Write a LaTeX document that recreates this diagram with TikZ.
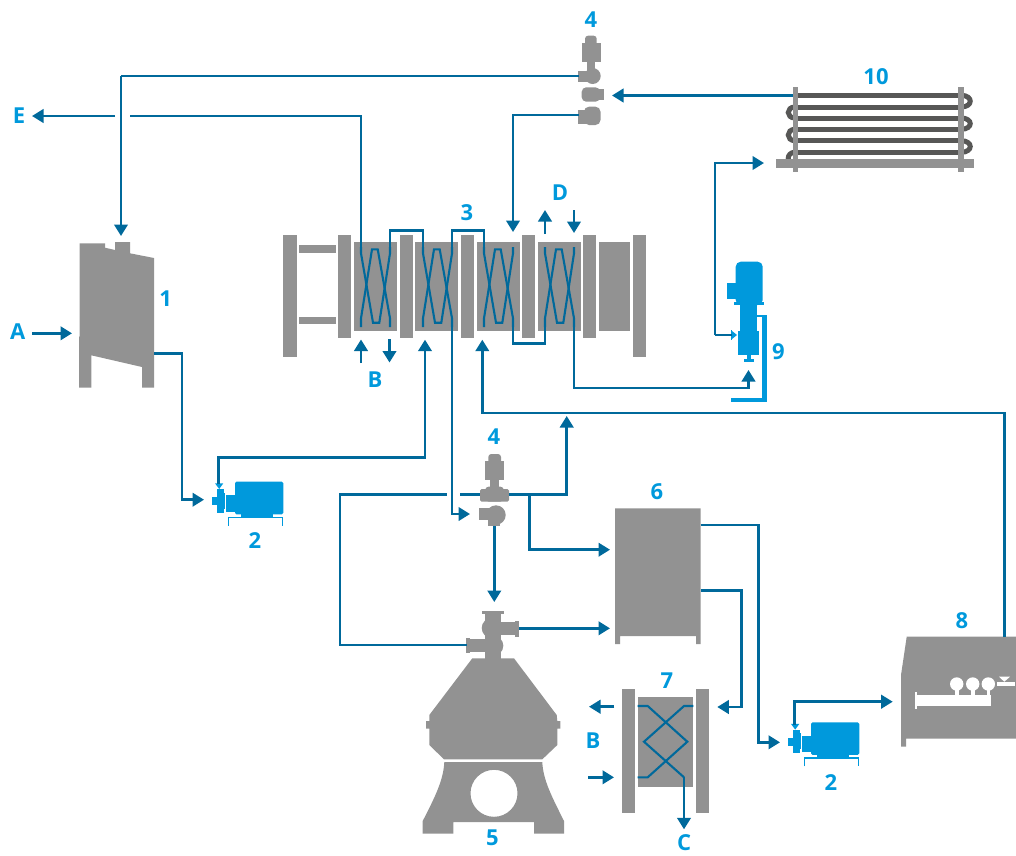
\documentclass[tikz,border=0pt]{standalone}
\usepackage{fontspec}
\setmainfont{Open Sans}
\usepackage{xcolor}
\usetikzlibrary{arrows.meta}
\definecolor{pipeblue}{HTML}{00699B}
\definecolor{lblblue}{HTML}{0099DC}
\definecolor{unitgray}{HTML}{929292}
\definecolor{tubegray}{HTML}{575756}

\begin{document}
\begin{tikzpicture}[
    x=1pt, y=-1pt,
    pipe/.style={draw=pipeblue, line width=2.5pt},
    arr/.style={pipe, -{Triangle[length=11.5pt, width=13.5pt]}},
    unit/.style={fill=unitgray},
    lbl/.style={text=lblblue, inner sep=0pt, font=\fontsize{22}{24}\selectfont\bfseries},
    tube/.style={draw=tubegray, line width=5pt},
    pumpunit/.pic={
        \fill[lblblue, rounded corners=1.5pt] (0,0) rectangle (48.3,32.6);
        \fill[lblblue] (5.7,32.6) rectangle (38.3,35);
        \fill[lblblue] (-9,13.3) rectangle (0,30);
        \fill[lblblue] (-17.7,7.3) rectangle (-11,31);
        \fill[lblblue] (-23.3,15.6) rectangle (-17.7,23.3);
        \fill[lblblue] (-11,11) rectangle (-10,27);
        \fill[lblblue] (-20,1.6) -- (-11.7,1.6) -- (-15.8,7.3) -- cycle;
        \draw[lblblue, line width=1.6pt] (-6.7,44) -- (-6.7,35.8) -- (47.3,35.8) -- (47.3,44);
    },
]

% tank 1
\fill[unit] (79.7,243.3) -- (105,243.3) -- (105,247.7) -- (115,250) -- (115,242) -- (130,242)
    -- (130,253.3) -- (154,258) -- (154,387.7) -- (142,387.7) -- (142,367) -- (91.3,355.3)
    -- (91.3,387.7) -- (79,387.7) -- (79,336.7) -- (79.7,336.7) -- cycle;
\coordinate (t1in) at (121,236);
\coordinate (t1out) at (154,353.5);
\coordinate (t1bend) at (182,400);
\coordinate (aStart) at (32,333.3);
\coordinate (aTip) at (72,333.3);

% plate heat exchanger 3
\foreach \bx/\bw in {283.3/13.4, 633/13.3} {
    \fill[unit] (\bx,235) rectangle ++(\bw,121.7);
}
\foreach \bx in {338.3, 399.7, 461, 522.3, 583.3} {
    \fill[unit] (\bx,235) rectangle ++(13,103.3);
}
\foreach \bx in {354, 415.3, 476.7, 538} {
    \fill[unit] (\bx,241.7) rectangle ++(43,89.6);
}
\fill[unit] (599.3,241.7) rectangle (630.3,331.3);
\fill[unit] (299.3,245.3) rectangle (335.7,253);
\fill[unit] (299.3,316.7) rectangle (335.7,324.3);
\foreach \px [count=\pn] in {361, 423, 484, 545} {
    \coordinate (p\pn tl) at (\px,247);
    \coordinate (p\pn tr) at (\px+29,247);
    \coordinate (p\pn bl) at (\px,327);
    \coordinate (p\pn br) at (\px+29,327);
    \draw[pipe, line width=2.1pt] (p\pn tl) -- (\px,253.3) -- (\px+12,322.7) -- (\px+18.3,322.7) -- (\px+29,253.3) -- (p\pn tr);
    \draw[pipe, line width=2.1pt] (p\pn bl) -- (\px,318.3) -- (\px+11,249.3) -- (\px+16.7,249.3) -- (\px+29,318.3) -- (p\pn br);
}
\coordinate (loopA) at (400,230.7);
\coordinate (loopB) at (470,230.7);
\coordinate (loopC) at (530,343.3);
\draw[pipe] (p1tr) |- (loopA) -| (p2tl);
\draw[pipe] (p2tr) |- (loopB) -| (p3tl);
\draw[pipe] (p3br) |- (loopC) -| (p4bl);

% media B and D at the plates
\coordinate (bIn) at (361,363);
\coordinate (bInTip) at (361,339.5);
\coordinate (bOut) at (389.5,339);
\coordinate (bOutTip) at (389.5,362.5);
\coordinate (dOut) at (545,234);
\coordinate (dOutTip) at (545,210);
\coordinate (dIn) at (574,210);
\coordinate (dInTip) at (574,233);
\draw[arr] (bIn) -- (bInTip);
\draw[arr] (bOut) -- (bOutTip);
\draw[arr] (dOut) -- (dOutTip);
\draw[arr] (dIn) -- (dInTip);

% valve 4 top
\fill[unit, rounded corners=3pt] (585,35.7) rectangle (596.7,46);
\fill[unit] (582,43) rectangle (601,62);
\fill[unit] (586.7,62) rectangle (595,70);
\fill[unit] (592.7,76) circle [radius=8];
\fill[unit] (578.3,70.5) rectangle (592,81.7);
\fill[unit, rounded corners=4.5pt] (581.7,87.3) rectangle (600,101.7);
\fill[unit] (597,89) rectangle (604,100);
\fill[unit, rounded corners=5pt] (584,106.7) rectangle (600.5,125);
\fill[unit] (578.3,110) rectangle (590,124);
\coordinate (v1a) at (579,76);
\coordinate (v1b) at (612,95.5);
\coordinate (v1c) at (579,115);
\coordinate (v1bend) at (121,76);

% cooler 10
\foreach \ty in {95.3, 107, 118, 129.3, 140.7, 152.3} {
    \draw[tube] (795,\ty) -- (961,\ty);
}
\foreach \ta/\tb in {107/118, 129.3/140.7, 152.3/164} {
    \draw[tube] (795,\ta) .. controls (786,\ta) and (786,\tb) .. (795,\tb);
}
\foreach \ta/\tb in {95.3/107, 118/129.3, 140.7/152.3} {
    \draw[tube] (961,\ta) .. controls (973.3,\ta) and (973.3,\tb) .. (961,\tb);
}
\fill[unit] (792.7,87.3) rectangle (798,172);
\fill[unit] (958.3,87.3) rectangle (963.7,172);
\fill[unit] (776,159) rectangle (974,167.7);
\coordinate (c10out) at (793,95.5);
\coordinate (c10in) at (764,163);

% pump 9
\fill[lblblue, rounded corners=5pt] (735.7,261.7) rectangle (762.7,305);
\fill[lblblue] (726.7,283) rectangle (736,299);
\fill[lblblue] (734,301.7) rectangle (764,305);
\fill[lblblue] (740,305) rectangle (756.7,332);
\fill[lblblue] (738,331) rectangle (759,355);
\fill[lblblue] (747.3,355) rectangle (751,360);
\fill[lblblue] (744.3,359) rectangle (754,361.7);
\fill[lblblue] (731,330) rectangle (732.4,340);
\fill[lblblue] (732,331) -- (737,335) -- (732,339) -- cycle;
\draw[lblblue, line width=2pt] (756,315.5) -- (763,315.5);
\draw[lblblue, line width=4.7pt] (764.7,315) -- (764.7,400) -- (731,400);
\coordinate (p9a) at (732,335);
\coordinate (p9tip) at (748.5,370);
\coordinate (p9bend) at (715,250);

% valve 4 centre
\fill[unit, rounded corners=3pt] (488.3,454) rectangle (501,464);
\fill[unit] (485,460.7) rectangle (504,480);
\fill[unit] (490,480) rectangle (499,487);
\fill[unit, rounded corners=4pt] (485,486.5) rectangle (504,501.7);
\fill[unit, rounded corners=1.5pt] (480,489) rectangle (509,501.7);
\fill[unit] (496,515) circle [radius=9.7];
\fill[unit] (479,508.3) rectangle (490,520);
\fill[unit] (488,515) rectangle (500,526);
\coordinate (v2left) at (480,494.3);
\coordinate (v2right) at (509,494.3);
\coordinate (v2in) at (470,514);
\coordinate (v2out) at (494.3,526);

% separator 5
\fill[unit] (481.7,610.7) rectangle (504,613.5);
\fill[unit] (485,610.7) rectangle (501,660);
\fill[unit] (491.7,628) circle [radius=10];
\fill[unit] (493.3,645.7) circle [radius=10];
\fill[unit] (500,621.7) rectangle (515.5,635);
\fill[unit] (515,621) rectangle (519,636.7);
\fill[unit] (470,639) rectangle (487,652.3);
\fill[unit] (466.3,637.7) rectangle (470,653.3);
\fill[unit] (472.3,658.3) -- (514,658.3) -- (556.7,715) -- (557.3,721) -- (560.3,721) -- (560.3,728.7)
    -- (557.3,728.7) -- (557.3,745) -- (542.3,759.3) -- (444,759.3) -- (429.3,745) -- (429.3,728.7)
    -- (426,728.7) -- (426,721) -- (429.3,721) -- (429.3,715) -- cycle;
\fill[unit, even odd rule] (444.3,762) -- (542.3,762)
    .. controls (543,780) and (552,797) .. (564,821) -- (564,833.7) -- (534,833.7) -- (534,822)
    -- (453.3,822) -- (453.3,833.7) -- (422.7,833.7) -- (422.7,821)
    .. controls (435,797) and (443.5,780) .. (444.3,762) -- cycle
    (494,793.3) circle [radius=23.5];
\coordinate (s5left) at (467,645);
\coordinate (s5right) at (519,628.3);
\coordinate (s5tip) at (494.3,602);

% tank 6
\fill[unit] (615,508.3) -- (700.7,508.3) -- (700.7,644) -- (696,644) -- (696,636) -- (620,636)
    -- (620,644) -- (615,644) -- cycle;
\coordinate (t6inA) at (610,549.7);
\coordinate (t6inB) at (610,628.3);
\coordinate (t6outA) at (700.7,525);
\coordinate (t6outB) at (700.7,590.7);

% heat exchanger 7
\fill[unit] (621.7,688.7) rectangle (635,813.3);
\fill[unit] (696,688.7) rectangle (709.3,813.3);
\fill[unit] (637.7,697.3) rectangle (693.3,786.7);
\draw[pipe, line width=2.1pt] (637.7,706) -- (647.7,706) -- (687.3,741.7) -- (647.7,777.3) -- (637.7,777.3);
\coordinate (e7tr) at (693.3,706);
\coordinate (e7c) at (684,777.3);
\draw[pipe, line width=2.1pt] (e7tr) -- (684,706) -- (644,741.7) -- (e7c);
\coordinate (e7in) at (717.3,707);
\coordinate (bOutB) at (614.3,706.7);
\coordinate (bOutBTip) at (589,706.7);
\coordinate (bInB) at (588.3,777.3);
\coordinate (bInBTip) at (614,777.3);
\coordinate (cTip) at (684,829.3);
\draw[arr] (bOutB) -- (bOutBTip);
\draw[arr] (bInB) -- (bInBTip);
\draw[arr] (e7c) -- (cTip);

% tank 8
\fill[unit] (906.7,636.7) -- (1016,636.7) -- (1016,738.7) -- (906,738.7) -- (906,746.7) -- (901,746.7)
    -- (901,675) -- cycle;
\fill[white] (915,691.7) rectangle (917,709);
\fill[white] (915,695) rectangle (991,706);
\foreach \cx in {956.7, 972.7, 988.3} {
    \fill[white] (\cx,684) circle [radius=6.7];
    \fill[white] (\cx-1.8,688) rectangle (\cx+1.8,696);
}
\fill[white] (999,676.7) -- (1010,676.7) -- (1004.3,681.7) -- cycle;
\fill[white] (996.7,682) rectangle (1015,685.7);
\coordinate (t8in) at (892.7,701.7);
\coordinate (t8out) at (1004.3,637);

% pumps 2
\pic (pumpA) at (235,481.7) {pumpunit};
\pic (pumpB) at (811,722.3) {pumpunit};
\coordinate (pAin) at (204,499.7);
\coordinate (pAout) at (218.3,484);
\coordinate (pBin) at (780,742.3);
\coordinate (pBout) at (794.3,725);

% product lines
\draw[pipe] (v1a) -- (v1bend);
\draw[arr] (v1bend) -- (t1in);
\draw[arr] (aStart) -- (aTip);
\draw[pipe] (t1out) -| (t1bend);
\draw[arr] (t1bend) |- (pAin);
\coordinate (eRight) at (130,116);
\coordinate (eLeft) at (115,116);
\coordinate (eTip) at (32,116);
\draw[pipe] (p1tl) |- (eRight);
\draw[arr] (eLeft) -- (eTip);
\draw[arr] (v1c) -| (p3tr |- 0,232);
\draw[arr] (c10out) -- (v1b);
\coordinate (upperBend) at (715,163);
\draw[arr] (p9bend |- p9a) -- (upperBend) -- (c10in);
\draw[pipe] (p9a) -- (p9bend |- p9a);
\draw[arr] (p4br) -- (574,388) -| (p9tip);

\coordinate (p2feed) at (300,457.7);
\draw[arr] (pAout) |- (p2feed) -| (425,339.7);
\draw[arr] (p2br) |- (v2in);
\coordinate (p3feed) at (800,413);
\draw[arr] (t8out) |- (p3feed) -| (482.3,339.7);

% lines round valve 4 centre
\coordinate (gapL) at (446.7,494.3);
\coordinate (gapR) at (460,494.3);
\coordinate (leftLine) at (340,600);
\draw[pipe] (gapR) -- (v2left);
\draw[pipe] (gapL) -| (leftLine) |- (s5left);
\coordinate (riseTip) at (566.7,416);
\draw[arr] (v2right) -| (riseTip);
\coordinate (branch) at (529.3,494.3);
\draw[arr] (branch) |- (t6inA);
\draw[arr] (v2out) -- (s5tip);
\draw[arr] (s5right) -- (t6inB);

% lines out of tank 6
\coordinate (t6bendA) at (758.3,600);
\coordinate (t6bendB) at (741.7,650);
\draw[arr] (t6outB) -| (t6bendB) |- (e7in);
\draw[arr] (t6outA) -| (t6bendA) |- (pBin);
\coordinate (pBbend) at (850,701.7);
\draw[arr] (pBout) |- (pBbend) -- (t8in);

% labels
\node[lbl] (lbl1) at (165.7,298.3) {1};
\node[lbl] (lbl2a) at (255,541) {2};
\node[lbl] (lbl2b) at (831,782.7) {2};
\node[lbl] (lbl3) at (467,213) {3};
\node[lbl] (lbl4a) at (591,20) {4};
\node[lbl] (lbl4b) at (494,437) {4};
\node[lbl] (lbl5) at (492.3,837.7) {5};
\node[lbl] (lbl6) at (657,492) {6};
\node[lbl] (lbl7) at (667,681) {7};
\node[lbl] (lbl8) at (962,621) {8};
\node[lbl] (lbl9) at (778.3,351.7) {9};
\node[lbl] (lbl10) at (876,77) {10};
\node[lbl] (lblA) at (17.7,332) {A};
\node[lbl] (lblBa) at (375,380) {B};
\node[lbl] (lblBb) at (593,741) {B};
\node[lbl] (lblC) at (684,843) {C};
\node[lbl] (lblD) at (560,193) {D};
\node[lbl] (lblE) at (19,116) {E};

\useasboundingbox (0,0) rectangle (1016,855);
\end{tikzpicture}
\end{document}
